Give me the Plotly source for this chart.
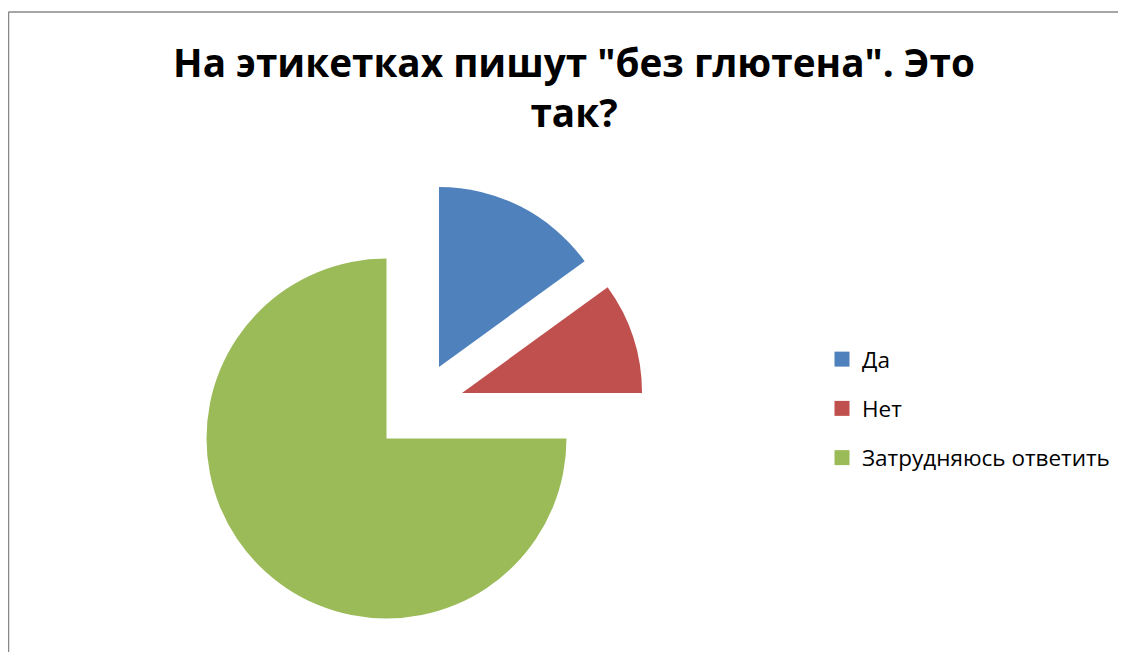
import plotly.graph_objects as go

# ---- data ----
labels = ["Да", "Нет", "Затрудняюсь ответить"]
values = [15, 10, 75]
colors = ["#4F81BD", "#C0504D", "#9BBB59"]
title_text = "На этикетках пишут \"без глютена\". Это<br>так?"

# ---- layout constants (pixels, figure coordinates) ----
W, H = 1118, 644                  # page body adds an 8px margin
R = 180
BASE_C = (378.5, 430.5)           # centre of the pie
EXPLODE = [(52.5, -71.5), (75.5, -45.5), (0, 0)]  # explosion offsets per slice

fig = go.Figure()
for i, lab in enumerate(labels):
    cx = BASE_C[0] + EXPLODE[i][0]
    cy = BASE_C[1] + EXPLODE[i][1]
    slice_colors = [c if j == i else "rgba(0,0,0,0)" for j, c in enumerate(colors)]
    fig.add_trace(go.Pie(
        labels=labels, values=values, sort=False, direction="clockwise", rotation=0,
        marker=dict(colors=slice_colors, line=dict(width=0)),
        textinfo="none", hoverinfo="skip", showlegend=False,
        domain=dict(x=[(cx - R) / W, (cx + R) / W],
                    y=[1 - (cy + R) / H, 1 - (cy - R) / H]),
    ))

# legend entries
for i, lab in enumerate(labels):
    fig.add_trace(go.Scatter(
        x=[None], y=[None], mode="markers", name=lab, legendgroup=lab,
        marker=dict(symbol="square", size=15, color=colors[i]),
    ))

border = dict(color="#888888", width=1.5)
fig.update_layout(
    width=W, height=H,
    margin=dict(l=0, r=0, t=0, b=0),
    paper_bgcolor="white", plot_bgcolor="white",
    xaxis=dict(visible=False), yaxis=dict(visible=False),
    title=dict(text=title_text, x=566 / W, xanchor="center", y=1 - 69 / H, yanchor="top",
               font=dict(family="Open Sans", size=38.7, color="black", weight="bold")),
    legend=dict(x=814 / W, xanchor="left", y=1 - 330 / H, yanchor="top",
                font=dict(family="Open Sans", size=22.5, color="black"),
                traceorder="grouped", tracegroupgap=17, itemwidth=30,
                bgcolor="rgba(0,0,0,0)"),
    shapes=[
        dict(type="line", xref="paper", yref="paper",
             x0=0.5 / W, x1=1.0, y0=1 - 4 / H, y1=1 - 4 / H, line=border),
        dict(type="line", xref="paper", yref="paper",
             x0=0.5 / W, x1=0.5 / W, y0=0, y1=1 - 4 / H, line=border),
    ],
)

fig.write_html("out.html")
